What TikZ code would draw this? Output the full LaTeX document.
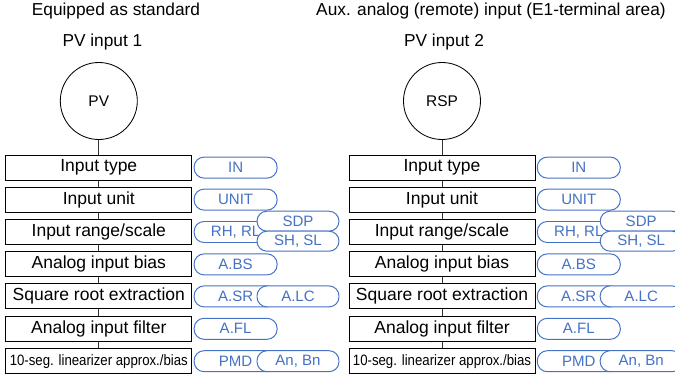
\documentclass[tikz,border=0pt]{standalone}
\usepackage{fontspec}
\setmainfont{Liberation Sans}
\newfontfamily\narrowfont[FakeStretch=0.88]{Liberation Sans}
\definecolor{pillblue}{RGB}{68,114,196}

\begin{document}
\begin{tikzpicture}[
  ttl/.style={font=\fontsize{12.3}{14}\selectfont, anchor=base, inner sep=0pt},
  src/.style={draw, circle, line width=0.6pt, minimum size=1.925cm,
              inner sep=0pt, font=\fontsize{11}{13}\selectfont},
  blk/.style={draw, line width=0.7pt, minimum width=4.65cm,
              minimum height=0.625cm, inner sep=0pt,
              font=\fontsize{12.45}{14}\selectfont},
  narrow/.style={font=\narrowfont\fontsize{10.67}{12}\selectfont},
  pill/.style={draw=pillblue, text=pillblue, fill=white,
               rounded corners=0.25cm, line width=0.7pt,
               minimum width=2.075cm, minimum height=0.525cm,
               inner sep=0pt, font=\fontsize{10.7}{12}\selectfont},
  half/.style={pill, minimum width=2.05cm, minimum height=0.5cm},
  link/.style={line width=0.6pt, black!80},
]
\useasboundingbox (0,0) rectangle (16.875,-9.35);
\clip (0,0) rectangle (16.875,-9.35);

%% ---- Titles ----
\node[ttl] (t1) at (2.9, -0.375)   {Equipped as standard};
\node[ttl] (t2) at (12.275, -0.375) {Aux. analog (remote) input (E1-terminal area)};
\node[ttl] (lbl1) at (2.56, -1.15) {PV input 1};
\node[ttl] (lbl2) at (11.1, -1.15) {PV input 2};

%% ---- Sources ----
\node[src] (pv)  at (2.47, -2.525)  {PV};
\node[src] (rsp) at (11.05, -2.525) {RSP};

%% ---- Left chain ----
\node[blk] (typ1)  at (2.47, -4.19) {Input type};
\node[blk] (unit1) at (2.47, -4.99) {Input unit};
\node[blk] (rng1)  at (2.47, -5.80) {Input range/scale};
\node[blk] (bias1) at (2.47, -6.61) {Analog input bias};
\node[blk] (sqr1)  at (2.47, -7.41) {Square root extraction};
\node[blk] (filt1) at (2.47, -8.22) {Analog input filter};
\node[blk, narrow] (lin1) at (2.47, -9.03) {10-seg. linearizer approx./bias};

\draw[link] (pv) -- (typ1);
\draw[link] (typ1) -- (unit1);
\draw[link] (unit1) -- (rng1);
\draw[link] (rng1) -- (bias1);
\draw[link] (bias1) -- (sqr1);
\draw[link] (sqr1) -- (filt1);
\draw[link] (filt1) -- (lin1);

%% ---- Left parameters ----
\node[pill] (pin1)   at (5.89, -4.19) {IN};
\node[pill] (punit1) at (5.89, -4.99) {UNIT};
\node[pill] (prh1)   at (5.89, -5.80) {RH, RL\hspace{0.35cm}};
\node[half] (psdp1)  at (7.45, -5.53) {SDP};
\node[half] (pssl1)  at (7.45, -6.03) {SH, SL};
\node[pill] (pabs1)  at (5.89, -6.61) {A.BS};
\node[pill] (pasr1)  at (5.89, -7.41) {A.SR};
\node[pill, minimum width=2.05cm] (palc1) at (7.45, -7.41) {A.LC};
\node[pill] (pafl1)  at (5.89, -8.22) {A.FL};
\node[pill] (ppmd1)  at (5.89, -9.03) {PMD};
\node[pill, minimum width=2.05cm] (panb1) at (7.45, -9.03) {An, Bn};

%% ---- Right chain ----
\node[blk] (typ2)  at (11.05, -4.19) {Input type};
\node[blk] (unit2) at (11.05, -4.99) {Input unit};
\node[blk] (rng2)  at (11.05, -5.80) {Input range/scale};
\node[blk] (bias2) at (11.05, -6.61) {Analog input bias};
\node[blk] (sqr2)  at (11.05, -7.41) {Square root extraction};
\node[blk] (filt2) at (11.05, -8.22) {Analog input filter};
\node[blk, narrow] (lin2) at (11.05, -9.03) {10-seg. linearizer approx./bias};

\draw[link] (rsp) -- (typ2);
\draw[link] (typ2) -- (unit2);
\draw[link] (unit2) -- (rng2);
\draw[link] (rng2) -- (bias2);
\draw[link] (bias2) -- (sqr2);
\draw[link] (sqr2) -- (filt2);
\draw[link] (filt2) -- (lin2);

%% ---- Right parameters ----
\node[pill] (pin2)   at (14.47, -4.19) {IN};
\node[pill] (punit2) at (14.47, -4.99) {UNIT};
\node[pill] (prh2)   at (14.47, -5.80) {RH, RL\hspace{0.35cm}};
\node[half] (psdp2)  at (16.03, -5.53) {SDP};
\node[half] (pssl2)  at (16.03, -6.03) {SH, SL};
\node[pill] (pabs2)  at (14.47, -6.61) {A.BS};
\node[pill] (pasr2)  at (14.47, -7.41) {A.SR};
\node[pill, minimum width=2.05cm] (palc2) at (16.03, -7.41) {A.LC};
\node[pill] (pafl2)  at (14.47, -8.22) {A.FL};
\node[pill] (ppmd2)  at (14.47, -9.03) {PMD};
\node[pill, minimum width=2.05cm] (panb2) at (16.03, -9.03) {An, Bn};

\end{tikzpicture}
\end{document}
